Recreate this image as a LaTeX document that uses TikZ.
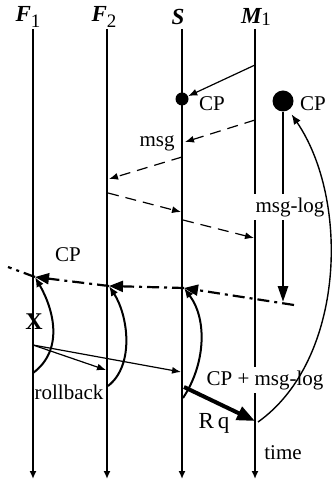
\documentclass[tikz,border=0pt]{standalone}
\usepackage{fontspec}
\setmainfont{Liberation Serif}
\usetikzlibrary{arrows.meta}

\begin{document}
\begin{tikzpicture}[x=0.5pt, y=-0.5pt,
  tline/.style={line width=0.8pt, -{Latex[length=4pt, width=3.5pt]}},
  lab/.style={font=\fontsize{10.5}{12}\selectfont, inner sep=1.5pt},
  proc/.style={font=\fontsize{11.5}{13}\selectfont\bfseries\itshape, inner sep=0pt},
  msgarr/.style={line width=0.6pt, -{Latex[length=4.5pt, width=3.5pt]}},
  dmsg/.style={msgarr, dash pattern=on 5.5pt off 3.5pt},
  cparr/.style={line width=1.1pt, dash pattern=on 6pt off 2.5pt on 1.5pt off 2.5pt,
    -{Triangle[length=7pt, width=5.5pt]}},
  logarr/.style={line width=1.4pt, -{Triangle[length=8pt, width=5pt]}},
  back/.style={line width=1pt, -{Latex[length=5pt, width=4pt]}},
  rqarr/.style={line width=2pt, -{Triangle[length=9pt, width=7pt]}},
  cpdot/.style={circle, fill, inner sep=0pt, minimum size=#1}]
  \useasboundingbox (0,0) rectangle (333,485);
  % processes and time lines
  \foreach \n/\x in {F1/33, F2/107, S/182, M1/255}{
    \coordinate (t\n) at (\x,29); \coordinate (b\n) at (\x,479);
    \draw[tline] (t\n) -- (b\n);}
  \node[proc] (hF1) at (28,17) {F\raisebox{-3pt}{\normalfont\fontsize{9.5}{10}\selectfont 1}};
  \node[proc] (hF2) at (104,17) {F\raisebox{-3pt}{\normalfont\fontsize{9.5}{10}\selectfont 2}};
  \node[proc] (hS) at (178,17) {S};
  \node[proc] (hM1) at (256,17) {M\raisebox{-1pt}{\normalfont\fontsize{9.5}{10}\selectfont 1}};
  % checkpoints
  \node[cpdot=6.5pt] (cpS) at (182,99) {};
  \node[cpdot=10.5pt] (cpM) at (283,101) {};
  \node[lab] (lcpS) at (212,104) {CP};
  \node[lab] (lcpM) at (313,104) {CP};
  % messages
  \coordinate (m0) at (255,65);
  \draw[msgarr] (m0) -- (cpS);
  \coordinate (m1a) at (255,120); \coordinate (m1b) at (185,142);
  \coordinate (m2a) at (182,157); \coordinate (m2b) at (109,179);
  \coordinate (m3a) at (108,193); \coordinate (m3b) at (181,212);
  \coordinate (m4a) at (183,220); \coordinate (m4b) at (254,238);
  \draw[dmsg] (m1a) -- (m1b);
  \draw[dmsg] (m2a) -- (m2b);
  \draw[dmsg] (m3a) -- (m3b);
  \draw[dmsg] (m4a) -- (m4b);
  \node[lab] (lmsg) at (157,143) {msg};
  % message log
  \coordinate (logend) at (283,302);
  \draw[logarr] (cpM) -- (logend);
  \node[lab, fill=white] (llog) at (290,207) {msg-log};
  % checkpoint line
  \coordinate (cpL) at (8,267);  \coordinate (cpF1) at (35,277);
  \coordinate (cpF2) at (109,286); \coordinate (cpS2) at (184,288);
  \coordinate (cpR) at (294,305);
  \draw[cparr, -] (cpF1) -- (cpL);
  \draw[cparr] (cpF2) -- (cpF1);
  \draw[cparr] (cpS2) -- (cpF2);
  \draw[cparr] (cpR) -- (cpS2);
  \node[lab] (lcp) at (68,255) {CP};
  % failure and rollback
  \node[font=\fontsize{12}{13}\selectfont\bfseries, inner sep=0pt] (fail) at (34,322) {X};
  \coordinate (f0) at (33,345);
  \coordinate (f2) at (106,370); \coordinate (fS) at (181,372);
  \draw[msgarr] (f0) -- (f2);
  \draw[msgarr] (f0) -- (fS);
  \coordinate (rbF1) at (33,373); \coordinate (rbF2) at (108,386); \coordinate (rbS) at (183,398);
  \draw[back] (rbF1) .. controls (64,350) and (54,310) .. (cpF1);
  \draw[back] (rbF2) .. controls (135,365) and (128,315) .. (cpF2);
  \draw[back] (rbS) .. controls (205,365) and (208,320) .. (cpS2);
  \node[lab] (lrb) at (69,392) {rollback};
  % recovery request
  \coordinate (rq0) at (184,387); \coordinate (rq1) at (255,421);
  \draw[rqarr] (rq0) -- (rq1);
  \node[lab, font=\fontsize{11.5}{13}\selectfont] (lrq) at (214,423) {R\,q};
  \node[lab, fill=white] (lcpl) at (265,380) {CP + msg-log};
  \coordinate (rc0) at (258,422);
  \draw[back, line width=0.7pt, shorten >=2.5pt] (rc0) .. controls (345,360) and (350,200) .. (cpM.-58);
  \node[lab] (ltime) at (283,453) {time};
\end{tikzpicture}
\end{document}
